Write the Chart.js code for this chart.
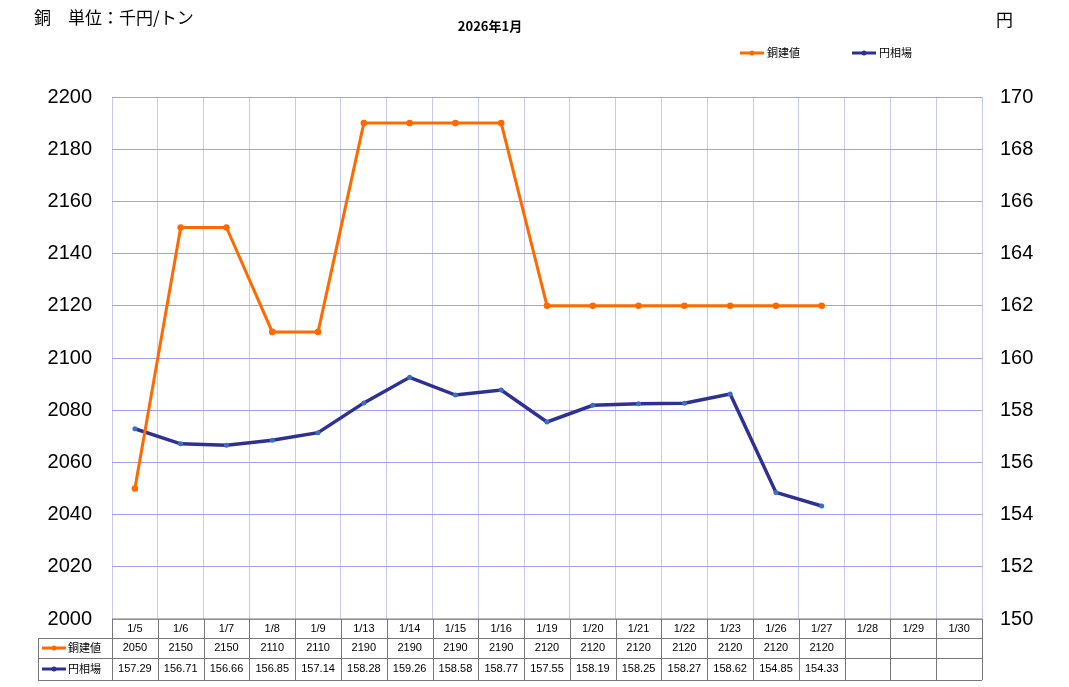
<!DOCTYPE html>
<html>
<head>
    <meta charset="utf-8">
    <title>銅建値と円相場</title>
    <script src="https://cdn.jsdelivr.net/npm/chart.js"></script>
    <style>
        body { margin: 0; background: #fff; }
        .chart-container { width: 1069px; height: 687px; }
    </style>
</head>
<body>
    <div class="chart-container">
        <canvas id="copperChart" width="1069" height="687"></canvas>
    </div>
    <script>
        const labels = ['1/5','1/6','1/7','1/8','1/9','1/13','1/14','1/15','1/16','1/19','1/20','1/21','1/22','1/23','1/26','1/27','1/28','1/29','1/30'];
        const copperPrice = [2050,2150,2150,2110,2110,2190,2190,2190,2190,2120,2120,2120,2120,2120,2120,2120,null,null,null];
        const yenRate = [157.29,156.71,156.66,156.85,157.14,158.28,159.26,158.58,158.77,157.55,158.19,158.25,158.27,158.62,154.85,154.33,null,null,null];
        const yenLabels = ['157.29','156.71','156.66','156.85','157.14','158.28','159.26','158.58','158.77','157.55','158.19','158.25','158.27','158.62','154.85','154.33','','',''];

        const ORANGE = 'rgb(255,106,0)';
        const NAVY = 'rgb(46,49,146)';
        const FONT = '"Noto Sans CJK JP", "Noto Sans", sans-serif';
        const NUMFONT = '"Liberation Sans", Arial, sans-serif';

        // titles, legend and the data table under the plot
        const decorations = {
            id: 'decorations',
            afterDraw(chart) {
                const ctx = chart.ctx;
                const x = chart.scales.x;
                const area = chart.chartArea;
                ctx.save();
                ctx.fillStyle = '#000';
                ctx.textBaseline = 'middle';
                ctx.font = '17px ' + FONT;
                ctx.textAlign = 'left';
                ctx.fillText('銅　単位：千円/トン', 34, 18);
                ctx.textAlign = 'right';
                ctx.fillText('円', 1013, 20);
                ctx.font = 'bold 13px ' + FONT;
                ctx.textAlign = 'center';
                ctx.fillText('2026年1月', 490, 26);

                // legend
                ctx.font = '11px ' + FONT;
                ctx.textAlign = 'left';
                [[ORANGE, '銅建値', 740], [NAVY, '円相場', 852]].forEach(([c, t, lx]) => {
                    ctx.strokeStyle = c; ctx.lineWidth = 3;
                    ctx.beginPath(); ctx.moveTo(lx, 53); ctx.lineTo(lx + 24, 53); ctx.stroke();
                    ctx.fillStyle = c;
                    ctx.beginPath(); ctx.arc(lx + 12, 53, 2.5, 0, Math.PI * 2); ctx.fill();
                    ctx.fillStyle = '#000';
                    ctx.fillText(t, lx + 27, 53);
                });

                // table
                const top = area.bottom, r1 = top + 19, r2 = top + 39, r3 = top + 61;
                const left = 38;
                const half = (x.getPixelForValue(1) - x.getPixelForValue(0)) / 2;
                ctx.strokeStyle = '#777';
                ctx.lineWidth = 1;
                ctx.beginPath();
                ctx.moveTo(area.left, top); ctx.lineTo(area.right, top);
                [r1, r2, r3].forEach(y => { ctx.moveTo(left, y + 0.5); ctx.lineTo(area.right, y + 0.5); });
                ctx.moveTo(left + 0.5, r1); ctx.lineTo(left + 0.5, r3);
                labels.forEach((l, i) => {
                    const bx = Math.round(x.getPixelForValue(i) - half) + 0.5;
                    ctx.moveTo(bx, top); ctx.lineTo(bx, r3);
                });
                ctx.moveTo(area.right + 0.5, top); ctx.lineTo(area.right + 0.5, r3);
                ctx.stroke();

                ctx.font = '11px ' + NUMFONT;
                ctx.textAlign = 'center';
                labels.forEach((l, i) => {
                    const cx = x.getPixelForValue(i);
                    ctx.fillText(l, cx, (top + r1) / 2);
                    if (copperPrice[i] !== null) ctx.fillText(String(copperPrice[i]), cx, (r1 + r2) / 2);
                    ctx.fillText(yenLabels[i], cx, (r2 + r3) / 2);
                });
                ctx.font = '11px ' + FONT;
                ctx.textAlign = 'left';
                [[ORANGE, '銅建値', (r1 + r2) / 2], [NAVY, '円相場', (r2 + r3) / 2]].forEach(([c, t, y]) => {
                    ctx.strokeStyle = c; ctx.lineWidth = 3;
                    ctx.beginPath(); ctx.moveTo(42, y); ctx.lineTo(66, y); ctx.stroke();
                    ctx.fillStyle = c;
                    ctx.beginPath(); ctx.arc(54, y, 2.5, 0, Math.PI * 2); ctx.fill();
                    ctx.fillStyle = '#000';
                    ctx.fillText(t, 68, y);
                });
                ctx.restore();
            }
        };

        new Chart(document.getElementById('copperChart'), {
            type: 'line',
            data: {
                labels: labels,
                datasets: [{
                    label: '銅建値',
                    data: copperPrice,
                    yAxisID: 'y',
                    borderColor: ORANGE,
                    backgroundColor: ORANGE,
                    borderWidth: 3,
                    pointRadius: 1.8,
                    tension: 0
                }, {
                    label: '円相場',
                    data: yenRate,
                    yAxisID: 'y1',
                    borderColor: NAVY,
                    backgroundColor: 'rgb(60,110,200)',
                    borderWidth: 3.5,
                    pointRadius: 2.5,
                    pointBorderWidth: 0,
                    tension: 0
                }]
            },
            options: {
                responsive: false,
                animation: false,
                devicePixelRatio: 1,
                layout: { padding: { top: 97, bottom: 7, left: 0, right: 0 } },
                plugins: { legend: { display: false }, tooltip: { enabled: false } },
                scales: {
                    x: {
                        offset: true,
                        grid: { offset: true, color: '#c8c8f0', drawTicks: false },
                        border: { display: false },
                        ticks: { display: false },
                        afterFit: s => { s.height = 61; }
                    },
                    y: {
                        position: 'left',
                        min: 2000, max: 2200,
                        ticks: { stepSize: 20, color: '#000', font: { size: 20, family: NUMFONT }, padding: 20, callback: v => String(v) },
                        grid: { color: '#a0a0f0', drawTicks: false },
                        border: { display: false },
                        afterFit: s => { s.width = 112; }
                    },
                    y1: {
                        position: 'right',
                        min: 150, max: 170,
                        ticks: { stepSize: 2, color: '#000', font: { size: 20, family: NUMFONT }, padding: 10, callback: v => String(v) },
                        grid: { display: false },
                        border: { display: false },
                        afterFit: s => { s.width = 87; }
                    }
                }
            },
            plugins: [decorations]
        });
    </script>
</body>
</html>
